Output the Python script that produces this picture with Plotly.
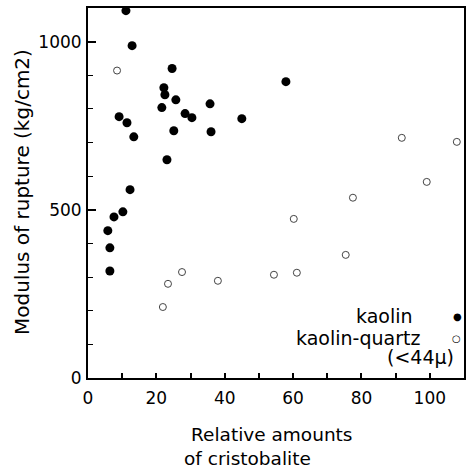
import plotly.graph_objects as go

# kaolin (filled circles)
kaolin_x = [11.1, 12.9, 24.6, 22.2, 22.5, 25.7, 21.6, 35.7, 28.4, 30.4, 25.1, 36.0,
            9.1, 11.4, 13.4, 23.1, 12.3, 10.2, 7.6, 5.8, 6.4, 6.4, 57.9, 45.0]
kaolin_y = [1092, 988, 920, 863, 842, 827, 804, 815, 786, 774, 735, 732,
            777, 759, 717, 649, 560, 494, 479, 438, 387, 318, 881, 771]

# kaolin-quartz (<44 micron) (open circles)
kq_x = [8.5, 27.5, 23.4, 38.0, 21.9, 91.8, 107.9, 99.1, 77.5, 60.2, 75.4, 54.4, 61.1]
kq_y = [914, 315, 280, 289, 211, 714, 702, 583, 536, 473, 366, 307, 313]

x_tickvals = [0, 10, 20, 30, 40, 50, 60, 70, 80, 90, 100, 110]
x_ticktext = ["0", "", "20", "", "40", "", "60", "", "80", "", "100", ""]
y_tickvals = [0, 500, 1000]
y_ticktext = ["0", "500", "1000"]

FONT = "DejaVu Sans"
L, R, T, B = 88, 464, 8, 378  # plot area in pixels


def px(xp):
    return (xp - L) / (R - L)


def py(yp):
    return (B - yp) / (B - T)


fig = go.Figure()
fig.add_trace(go.Scatter(
    x=kaolin_x, y=kaolin_y, mode="markers", name="kaolin",
    marker=dict(symbol="circle", size=9, color="black"),
    cliponaxis=False,
))
fig.add_trace(go.Scatter(
    x=kq_x, y=kq_y, mode="markers", name="kaolin-quartz (<44μ)",
    marker=dict(symbol="circle-open", size=7, color="#444", line=dict(width=1)),
    cliponaxis=False,
))

fig.update_layout(
    width=468, height=473,
    margin=dict(l=L, r=468 - R, t=T, b=473 - B, autoexpand=False),
    paper_bgcolor="white", plot_bgcolor="white",
    showlegend=False,
    font=dict(family=FONT, size=16, color="black"),
)
fig.update_xaxes(
    range=[0, 110], tickvals=x_tickvals, ticktext=x_ticktext,
    ticks="inside", ticklen=5, tickwidth=1.5, tickcolor="black",
    showline=True, linecolor="black", linewidth=2, mirror=True,
    showgrid=False, zeroline=False, automargin=False,
    tickfont=dict(size=17), ticklabelstandoff=4,
)
fig.update_yaxes(
    range=[0, 1100], tickvals=y_tickvals, ticktext=y_ticktext,
    ticks="inside", ticklen=8, tickwidth=1.5, tickcolor="black",
    minor=dict(dtick=100, ticks="inside", ticklen=5, tickwidth=1.2, tickcolor="black"),
    showline=True, linecolor="black", linewidth=2, mirror=True,
    showgrid=False, zeroline=False, automargin=False,
    tickfont=dict(size=17), ticklabelstandoff=1,
)

# y-axis title
fig.add_annotation(text="Modulus of rupture (kg/cm2)", xref="paper", yref="paper",
                   x=px(22), y=py(192), textangle=-90, showarrow=False,
                   xanchor="center", yanchor="middle", font=dict(size=20))

# x-axis title (two lines)
ann = [
    dict(text="Relative amounts", x=189, y=434),
    dict(text="of cristobalite", x=182, y=458),
]
for a in ann:
    fig.add_annotation(text=a["text"], xref="paper", yref="paper",
                       x=px(a["x"]), y=py(a["y"]),
                       xanchor="left", yanchor="middle", showarrow=False,
                       font=dict(size=18.5))

legend_items = [
    dict(text="kaolin", x=415, y=316, anchor="right"),
    dict(text="kaolin-quartz", x=422, y=338, anchor="right"),
    dict(text="(<44μ)", x=456, y=357, anchor="right"),
    dict(text="●", x=457, y=316, anchor="center"),
    dict(text="○", x=456, y=338, anchor="center"),
]
for a in legend_items:
    fig.add_annotation(text=a["text"], xref="paper", yref="paper",
                       x=px(a["x"]), y=py(a["y"]),
                       xanchor=a["anchor"], yanchor="middle", showarrow=False,
                       font=dict(size=19 if a["anchor"] != "center" else 10))

fig.write_html("out.html", config={"displayModeBar": False},
               post_script="document.body.style.margin='0';")
